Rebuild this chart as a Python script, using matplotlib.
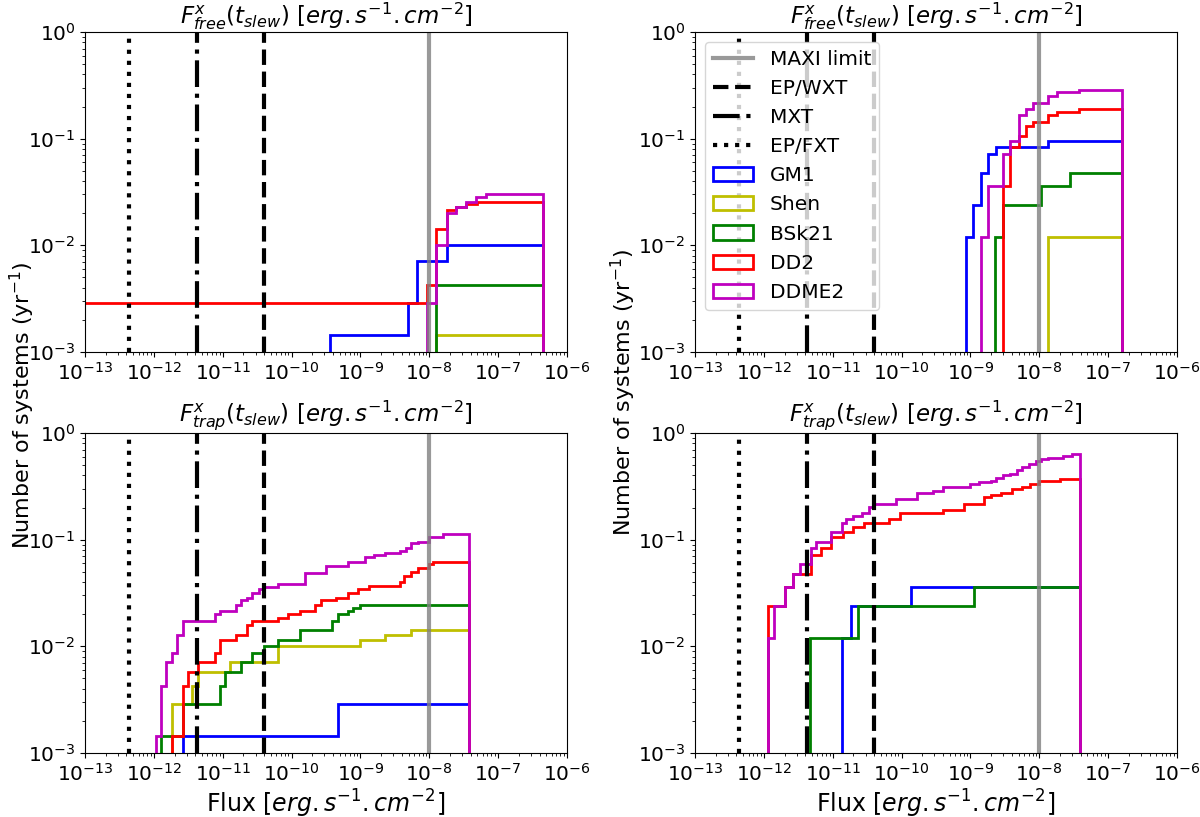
import numpy as np
import matplotlib
matplotlib.use("Agg")
import matplotlib.pyplot as plt
from matplotlib.patches import Patch

# ---------------- data (log10 flux bin edges, rate values in yr^-1) ----------------
series_names = ["GM1", "Shen", "BSk21", "DD2", "DDME2"]
series_colors = ["b", "y", "g", "r", "m"]

# detector limits (erg s^-1 cm^-2)
maxi_limit = 1e-8
wxt_limit = 4.0e-11
mxt_limit = 4.3e-12
fxt_limit = 4.4e-13

# --- top-left: F_free, left column
tl_gm1_edges = [-9.44, -8.31, -8.18, -7.75, -6.35]
tl_gm1_vals = [0.00143, 0.00286, 0.00714, 0.0100]
tl_shen_edges = [-7.90, -6.35]
tl_shen_vals = [0.00143]
tl_bsk_edges = [-7.90, -6.35]
tl_bsk_vals = [0.00429]
tl_dd2_edges = [-14.0, -8.04, -7.90, -7.75, -7.61, -7.46, -7.30, -6.35]
tl_dd2_vals = [0.00286, 0.00429, 0.0143, 0.0214, 0.0229, 0.0243, 0.0257]
tl_ddme2_edges = [-8.04, -7.90, -7.75, -7.61, -7.46, -7.32, -7.17, -6.35]
tl_ddme2_vals = [0.00286, 0.0100, 0.0200, 0.0229, 0.0257, 0.0286, 0.0300]

# --- top-right: F_free, right column
tr_gm1_edges = [-9.07, -8.96, -8.85, -8.74, -8.63, -7.87, -6.80]
tr_gm1_vals = [0.0119, 0.0238, 0.0476, 0.0714, 0.0833, 0.0952]
tr_shen_edges = [-7.87, -6.80]
tr_shen_vals = [0.0119]
tr_bsk_edges = [-8.64, -8.53, -7.98, -7.55, -6.80]
tr_bsk_vals = [0.0119, 0.0238, 0.0357, 0.0476]
tr_dd2_edges = [-8.53, -8.42, -8.30, -8.20, -8.09, -7.87, -7.75, -7.43, -6.80]
tr_dd2_vals = [0.0357, 0.0833, 0.107, 0.131, 0.143, 0.167, 0.179, 0.190]
tr_ddme2_edges = [-8.85, -8.74, -8.53, -8.42, -8.30, -8.20, -8.09, -7.87, -7.75, -7.43, -6.80]
tr_ddme2_vals = [0.0119, 0.0357, 0.0714, 0.0952, 0.167, 0.190, 0.214, 0.250, 0.274, 0.286]

# --- bottom-left: F_trap, left column
bl_gm1_edges = [-11.57, -9.33, -7.42]
bl_gm1_vals = [0.00143, 0.00286]
bl_shen_edges = [-11.74, -11.45, -11.36, -10.89, -10.19, -9.01, -8.65, -8.26, -7.42]
bl_shen_vals = [0.00286, 0.00429, 0.00571, 0.00714, 0.0100, 0.0114, 0.0129, 0.0143]
bl_bsk_edges = [-11.90, -11.57, -11.04, -10.96, -10.73, -10.57, -10.40, -10.19,
                -9.88, -9.42, -9.33, -9.18, -9.11, -9.01, -7.42]
bl_bsk_vals = [0.00143, 0.00286, 0.00429, 0.00571, 0.00714, 0.00857, 0.0100,
               0.0114, 0.0143, 0.0171, 0.0200, 0.0214, 0.0229, 0.0243]
bl_dd2_edges = [-11.74, -11.57, -11.50, -11.36, -11.11, -11.04, -10.80, -10.65,
                -10.57, -10.19, -10.05, -9.88, -9.66, -9.57, -9.35, -9.18, -9.03,
                -8.87, -8.43, -8.36, -8.26, -8.16, -8.00, -7.94, -7.42]
bl_dd2_vals = [0.00143, 0.00429, 0.00571, 0.00714, 0.00857, 0.0114, 0.0129,
               0.0157, 0.0171, 0.0186, 0.0200, 0.0214, 0.0243, 0.0271, 0.0286,
               0.0314, 0.0343, 0.0371, 0.0400, 0.0457, 0.0500, 0.0543, 0.0586,
               0.0614]
bl_ddme2_edges = [-11.97, -11.90, -11.82, -11.74, -11.67, -11.57, -11.11, -11.04,
                  -10.81, -10.73, -10.65, -10.57, -10.48, -10.40, -10.19, -9.81,
                  -9.50, -9.18, -8.94, -8.80, -8.65, -8.43, -8.34, -8.26, -8.16,
                  -8.00, -7.80, -7.42]
bl_ddme2_vals = [0.00143, 0.00429, 0.00714, 0.00857, 0.0129, 0.0171, 0.0200,
                 0.0214, 0.0243, 0.0271, 0.0286, 0.0314, 0.0343, 0.0357, 0.0386,
                 0.0486, 0.0571, 0.0614, 0.0686, 0.0714, 0.0743, 0.0786, 0.0843,
                 0.0929, 0.0943, 0.107, 0.113]

# --- bottom-right: F_trap, right column
br_gm1_edges = [-10.86, -10.73, -9.86, -7.41]
br_gm1_vals = [0.0119, 0.0238, 0.0357]
br_bsk_edges = [-11.33, -10.63, -8.95, -7.41]
br_bsk_vals = [0.0119, 0.0238, 0.0357]
br_dd2_edges = [-11.94, -11.70, -11.57, -11.32, -11.17, -11.02, -10.85, -10.70,
                -10.55, -10.18, -10.02, -9.40, -9.10, -8.80, -8.70, -8.55, -8.40,
                -8.25, -8.13, -8.00, -7.70, -7.41]
br_dd2_vals = [0.0238, 0.0357, 0.0476, 0.0714, 0.0833, 0.107, 0.119, 0.131,
               0.143, 0.155, 0.179, 0.190, 0.214, 0.250, 0.262, 0.274, 0.298,
               0.310, 0.333, 0.357, 0.369]
br_ddme2_edges = [-11.94, -11.85, -11.70, -11.57, -11.47, -11.32, -11.25, -11.02,
                  -10.86, -10.80, -10.70, -10.58, -10.48, -10.40, -10.08, -9.78,
                  -9.55, -9.40, -9.00, -8.88, -8.70, -8.63, -8.53, -8.43, -8.33,
                  -8.25, -8.15, -8.05, -7.98, -7.88, -7.65, -7.53, -7.41]
br_ddme2_vals = [0.0119, 0.0238, 0.0357, 0.0476, 0.0595, 0.0833, 0.0952, 0.119,
                 0.143, 0.155, 0.167, 0.179, 0.202, 0.214, 0.238, 0.274, 0.286,
                 0.310, 0.333, 0.345, 0.357, 0.381, 0.405, 0.417, 0.452, 0.476,
                 0.512, 0.548, 0.571, 0.583, 0.607, 0.631]

panels = {
    "tl": [(tl_gm1_edges, tl_gm1_vals), (tl_shen_edges, tl_shen_vals),
           (tl_bsk_edges, tl_bsk_vals), (tl_dd2_edges, tl_dd2_vals),
           (tl_ddme2_edges, tl_ddme2_vals)],
    "tr": [(tr_gm1_edges, tr_gm1_vals), (tr_shen_edges, tr_shen_vals),
           (tr_bsk_edges, tr_bsk_vals), (tr_dd2_edges, tr_dd2_vals),
           (tr_ddme2_edges, tr_ddme2_vals)],
    "bl": [(bl_gm1_edges, bl_gm1_vals), (bl_shen_edges, bl_shen_vals),
           (bl_bsk_edges, bl_bsk_vals), (bl_dd2_edges, bl_dd2_vals),
           (bl_ddme2_edges, bl_ddme2_vals)],
    "br": [(br_gm1_edges, br_gm1_vals), None,
           (br_bsk_edges, br_bsk_vals), (br_dd2_edges, br_dd2_vals),
           (br_ddme2_edges, br_ddme2_vals)],
}

title_free = r"$F^{x}_{free}(t_{slew})$ $[erg.s^{-1}.cm^{-2}]$"
title_trap = r"$F^{x}_{trap}(t_{slew})$ $[erg.s^{-1}.cm^{-2}]$"
xlabel = r"Flux $[erg.s^{-1}.cm^{-2}]$"
ylabel = r"Number of systems (yr$^{-1}$)"

# ---------------- figure ----------------
fig = plt.figure(figsize=(12, 8.17), dpi=100)
W, H = 1200.0, 817.0
boxes = {
    "tl": (85, 32, 482, 320),
    "tr": (695, 32, 482, 320),
    "bl": (85, 433, 482, 320),
    "br": (695, 433, 482, 320),
}
titles = {"tl": title_free, "tr": title_free, "bl": title_trap, "br": title_trap}

for key, (x0, y0, w, h) in boxes.items():
    ax = fig.add_axes([x0 / W, 1 - (y0 + h) / H, w / W, h / H])
    ax.set_xscale("log")
    ax.set_yscale("log")
    ax.axvline(maxi_limit, color="grey", alpha=0.8, lw=3, label="MAXI limit")
    ax.axvline(wxt_limit, color="k", ls="--", lw=3, label="EP/WXT")
    ax.axvline(mxt_limit, color="k", ls="-.", lw=3, label="MXT")
    ax.axvline(fxt_limit, color="k", ls=":", lw=3, label="EP/FXT")
    for s, col in zip(panels[key], series_colors):
        if s is None:
            continue
        edges, vals = s
        ax.stairs(vals, 10.0 ** np.asarray(edges), baseline=1e-6,
                  color=col, lw=2)
    ax.set_xlim(1e-13, 1e-6)
    ax.set_ylim(1e-3, 1)
    ax.set_title(titles[key], fontsize=16.5)
    ax.tick_params(labelsize=14.5)
    if key in ("bl", "br"):
        ax.set_xlabel(xlabel, fontsize=17, labelpad=2)
    if key == "tr":
        handles, labels = ax.get_legend_handles_labels()
        handles = handles[:4] + [Patch(facecolor="none", edgecolor=c, lw=2)
                                 for c in series_colors]
        labels = labels[:4] + series_names
        ax.legend(handles, labels, loc="upper left", fontsize=14.5)

fig.text(22 / W, 1 - 405 / H, ylabel, rotation=90, ha="center", va="center",
         fontsize=16)
fig.text(623 / W, 1 - 392 / H, ylabel, rotation=90, ha="center", va="center",
         fontsize=16)

fig.savefig("out.png", dpi=100)
